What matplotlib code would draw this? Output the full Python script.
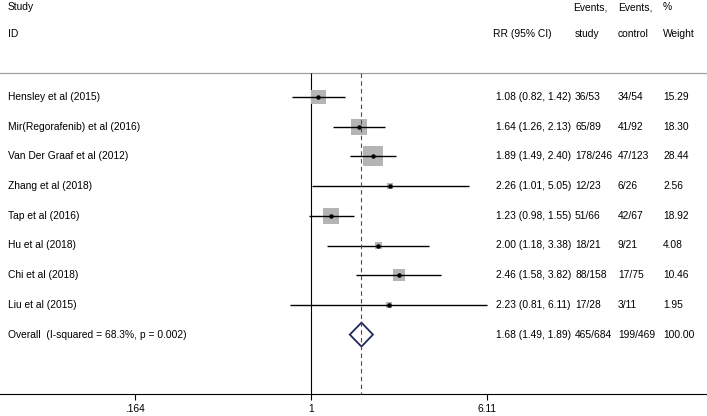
import numpy as np
import matplotlib
matplotlib.use("Agg")
import matplotlib.pyplot as plt
from matplotlib.patches import Polygon

plt.rcParams['font.family'] = ['Liberation Sans', 'DejaVu Sans']

studies = ["Hensley et al (2015)", "Mir(Regorafenib) et al (2016)", "Van Der Graaf et al (2012)",
           "Zhang et al (2018)", "Tap et al (2016)", "Hu et al (2018)", "Chi et al (2018)", "Liu et al (2015)"]
rr = [1.08, 1.64, 1.89, 2.26, 1.23, 2.00, 2.46, 2.23]
lo = [0.82, 1.26, 1.49, 1.01, 0.98, 1.18, 1.58, 0.81]
hi = [1.42, 2.13, 2.40, 5.05, 1.55, 3.38, 3.82, 6.11]
ev_study = ["36/53", "65/89", "178/246", "12/23", "51/66", "18/21", "88/158", "17/28"]
ev_control = ["34/54", "41/92", "47/123", "6/26", "42/67", "9/21", "17/75", "3/11"]
weights = [15.29, 18.30, 28.44, 2.56, 18.92, 4.08, 10.46, 1.95]

overall_label = "Overall  (I-squared = 68.3%, p = 0.002)"
overall_rr, overall_lo, overall_hi = 1.68, 1.49, 1.89
overall_study, overall_control, overall_weight = "465/684", "199/469", "100.00"

xticks = [0.164, 1, 6.11]
xticklabels = [".164", "1", "6.11"]

W, H = 707, 416
fig = plt.figure(figsize=(W / 100, H / 100), dpi=100)
ax = fig.add_axes([0, 0, 1, 1])
ax.set_xscale('log')
ppu = 97.3
x0 = 311.0
ax.set_xlim(np.exp(-x0 / ppu), np.exp((W - x0) / ppu))
row0, rsp = 97.0, 29.7
ax.set_ylim((H - row0) / rsp, -row0 / rsp)
ax.axis('off')

def ypix(p):
    return (p - row0) / rsp

fs = 7.4
tx = ax.get_yaxis_transform()  # x in axes fraction, y in data

sep_y = ypix(73)
axis_y = ypix(394)

# header
ax.text(8 / W, ypix(7), "Study", transform=tx, fontsize=fs, va='center', ha='left')
ax.text(8 / W, ypix(34), "ID", transform=tx, fontsize=fs, va='center', ha='left')
ax.text(493 / W, ypix(34), "RR (95% CI)", transform=tx, fontsize=fs, va='center', ha='left')
ax.text(573 / W, ypix(7), "Events,", transform=tx, fontsize=fs, va='center', ha='left')
ax.text(575 / W, ypix(34), "study", transform=tx, fontsize=fs, va='center', ha='left')
ax.text(618 / W, ypix(7), "Events,", transform=tx, fontsize=fs, va='center', ha='left')
ax.text(618 / W, ypix(34), "control", transform=tx, fontsize=fs, va='center', ha='left')
ax.text(663 / W, ypix(7), "%", transform=tx, fontsize=fs, va='center', ha='left')
ax.text(663 / W, ypix(34), "Weight", transform=tx, fontsize=fs, va='center', ha='left')

# separator and axis lines
ax.axhline(sep_y, color='#a0a0a0', lw=0.9)
ax.axhline(axis_y, color='black', lw=0.8)

# reference lines
ax.vlines(1, sep_y, axis_y, color='black', lw=0.8)

ys = np.arange(len(studies))
for i in range(len(studies)):
    ax.hlines(ys[i], lo[i], hi[i], color='black', lw=1.0, zorder=3)
side_pt = 3.75 * np.sqrt(np.array(weights)) * 0.72
ax.scatter(rr, ys, marker='s', s=side_pt ** 2, color='#b4b4b4', edgecolors='none', zorder=2)
ax.scatter(rr, ys, marker='o', s=5, color='black', zorder=4)

for i in range(len(studies)):
    ax.text(8 / W, ys[i], studies[i], transform=tx, fontsize=fs, va='center', ha='left')
    ax.text(496 / W, ys[i], f"{rr[i]:.2f} ({lo[i]:.2f}, {hi[i]:.2f})", transform=tx, fontsize=fs, va='center', ha='left')
    ax.text(575 / W, ys[i], ev_study[i], transform=tx, fontsize=fs, va='center', ha='left')
    ax.text(618 / W, ys[i], ev_control[i], transform=tx, fontsize=fs, va='center', ha='left')
    ax.text(663 / W, ys[i], f"{weights[i]:.2f}", transform=tx, fontsize=fs, va='center', ha='left')

# overall
yo = len(studies)
dh = 12 / rsp
diamond = Polygon([[overall_lo, yo], [overall_rr, yo - dh], [overall_hi, yo], [overall_rr, yo + dh]],
                  closed=True, facecolor='white', edgecolor='#1f2a5c', lw=1.3, zorder=3)
ax.add_patch(diamond)
ax.vlines(overall_rr, sep_y, axis_y, color='#9b2a2a', lw=0.8, linestyles=(0, (4, 3)), zorder=4)
ax.text(8 / W, yo, overall_label, transform=tx, fontsize=fs, va='center', ha='left')
ax.text(496 / W, yo, f"{overall_rr:.2f} ({overall_lo:.2f}, {overall_hi:.2f})", transform=tx, fontsize=fs, va='center', ha='left')
ax.text(575 / W, yo, overall_study, transform=tx, fontsize=fs, va='center', ha='left')
ax.text(618 / W, yo, overall_control, transform=tx, fontsize=fs, va='center', ha='left')
ax.text(663 / W, yo, overall_weight, transform=tx, fontsize=fs, va='center', ha='left')

# ticks
for t, lab in zip(xticks, xticklabels):
    ax.vlines(t, axis_y, axis_y + 6 / rsp, color='black', lw=0.8)
    ax.text(t, ypix(409), lab, fontsize=fs, va='center', ha='center')

fig.savefig("out.png", dpi=100)
